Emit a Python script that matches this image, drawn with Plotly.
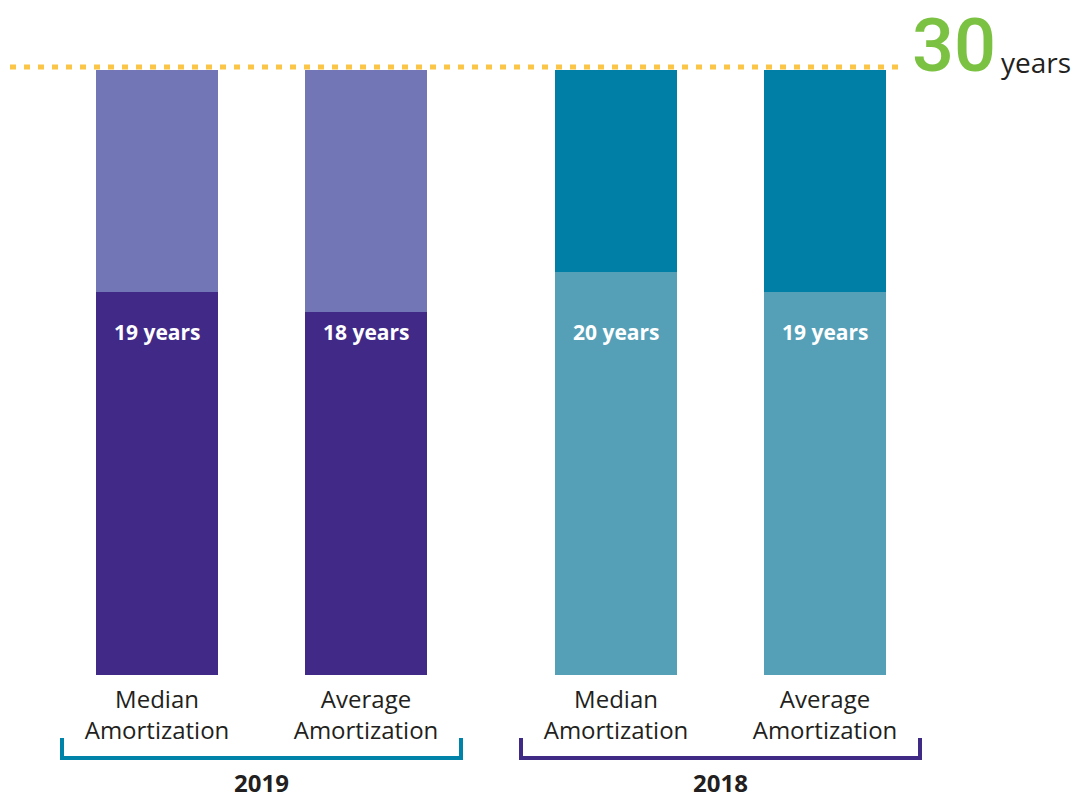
import plotly.graph_objects as go

# Amortization periods (years) by year and measure
years = ["2019", "2018"]
measures = ["Median<br>Amortization", "Average<br>Amortization"]
values_2019 = [19, 18]
values_2018 = [20, 19]
max_term = 30
bar_labels = ["19 years", "18 years", "20 years", "19 years"]

# Colours
fill_colors = ["#412a87", "#412a87", "#55a0b7", "#55a0b7"]
rest_colors = ["#7275b6", "#7275b6", "#007fa6", "#007fa6"]
bracket_colors = {"2019": "#0083a8", "2018": "#3f2a86"}
line_color = "#fbc547"
green = "#7cc242"
text_color = "#231f20"

W, H = 1080, 798
TOP, BOTTOM = 70, 675  # pixel rows of the plot area
first_center, inner_gap, group_gap, bar_w = 157, 209, 459, 122

values = values_2019 + values_2018
centers = [first_center + g * group_gap + s * inner_gap for g in range(2) for s in range(2)]
remainder = [max_term - v for v in values]


def py(p):
    """Convert a pixel row into paper coordinates."""
    return (BOTTOM - p) / (BOTTOM - TOP)


fig = go.Figure()
fig.add_trace(go.Bar(x=centers, y=values, width=bar_w,
                     marker=dict(color=fill_colors, line=dict(width=0)),
                     hoverinfo="skip", showlegend=False))
fig.add_trace(go.Bar(x=centers, y=remainder, width=bar_w,
                     marker=dict(color=rest_colors, line=dict(width=0)),
                     hoverinfo="skip", showlegend=False))

annotations = []
for c, lab in zip(centers, bar_labels):
    annotations.append(dict(x=c, y=py(332), xref="x", yref="paper", text=f"<b>{lab}</b>",
                            showarrow=False, font=dict(family="Open Sans", size=21, color="white"),
                            xanchor="center", yanchor="middle"))

shapes = []
# dotted reference line at the 30-year mark
shapes.append(dict(type="line", xref="x", yref="paper", x0=10, x1=906,
                   y0=py(67), y1=py(67),
                   line=dict(color=line_color, width=5, dash="6px,8px")))

# group brackets with year labels
for g, yr in enumerate(years):
    x0 = centers[2 * g] - 95
    x1 = centers[2 * g + 1] + 95
    col = bracket_colors[yr]
    shapes.append(dict(type="path", xref="x", yref="paper",
                       path=f"M {x0},{py(738)} L {x0},{py(758)} L {x1},{py(758)} L {x1},{py(738)}",
                       line=dict(color=col, width=4)))
    annotations.append(dict(x=(x0 + x1) / 2, y=py(782), xref="x", yref="paper",
                            text=f"<b>{yr}</b>", showarrow=False,
                            font=dict(family="Open Sans", size=24, color=text_color),
                            xanchor="center", yanchor="middle"))

# "30 years" marker
annotations.append(dict(x=998, y=py(0), xref="x", yref="paper", text="30",
                        showarrow=False,
                        font=dict(family="Roboto", size=74, color=green, weight=500),
                        xanchor="right", yanchor="top"))
annotations.append(dict(x=999, y=py(74), xref="x", yref="paper", text="years", showarrow=False,
                        font=dict(family="Open Sans", size=28, color=text_color),
                        xanchor="left", yanchor="bottom", yshift=-9))

fig.update_layout(
    width=W, height=H,
    margin=dict(l=0, r=0, t=TOP, b=H - BOTTOM),
    barmode="stack", bargap=0,
    plot_bgcolor="white", paper_bgcolor="white",
    xaxis=dict(range=[0, W], tickvals=centers, ticktext=measures * 2,
               tickfont=dict(family="Open Sans", size=24, color=text_color),
               showgrid=False, zeroline=False, showline=False, ticks="outside",
               ticklen=3, tickcolor="rgba(0,0,0,0)", fixedrange=True),
    yaxis=dict(range=[0, max_term], visible=False, fixedrange=True),
    shapes=shapes, annotations=annotations,
)

fig.write_html("out.html", config={"displayModeBar": False})
